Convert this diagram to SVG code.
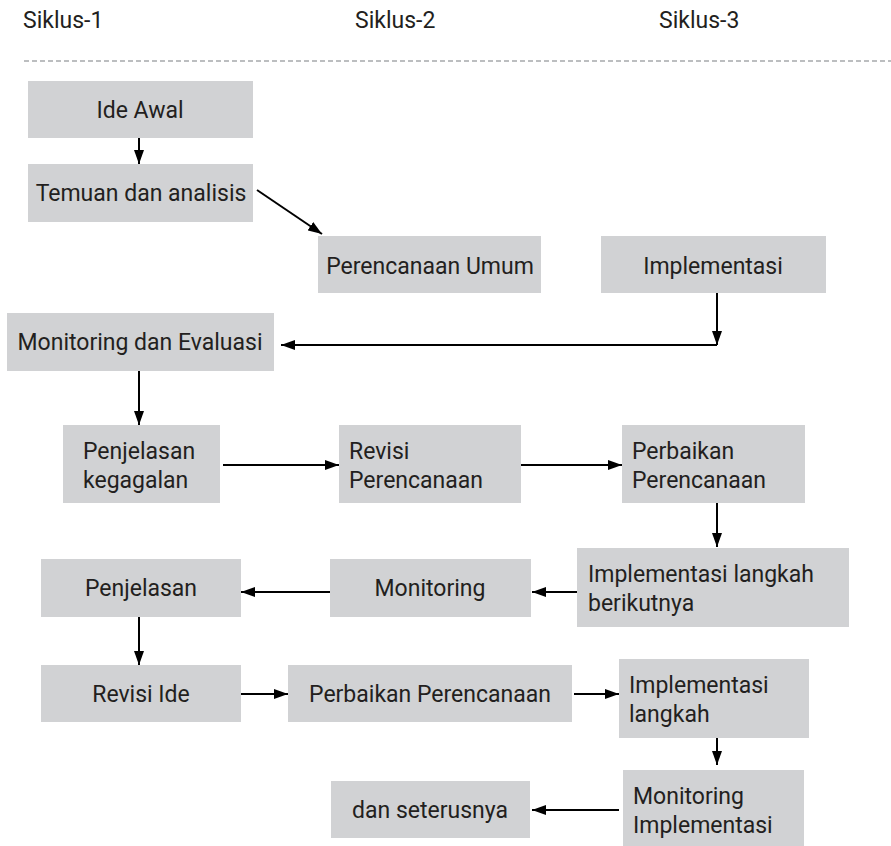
<svg xmlns="http://www.w3.org/2000/svg" width="891" height="846" viewBox="0 0 891 846">
<defs>
<style>
.box{fill:#d1d2d4}
text{font-family:Roboto,"Liberation Sans",sans-serif;font-size:23px;fill:#231f20}
.c{text-anchor:middle}
.ln{stroke:#000;stroke-width:2;fill:none}
</style>
<marker id="ah" viewBox="0 0 14 10" refX="14" refY="5" markerWidth="7" markerHeight="5" markerUnits="strokeWidth" orient="auto">
<path d="M0,0 L14,5 L0,10 Z" fill="#000"/>
</marker>
</defs>
<rect width="891" height="846" fill="#fff"/>
<g id="header">
<text x="23" y="28">Siklus-1</text>
<text x="355" y="28">Siklus-2</text>
<text x="659" y="28">Siklus-3</text>
<line x1="24" y1="61" x2="891" y2="61" stroke="#a7a9ac" stroke-width="1.5" stroke-dasharray="5,3"/>
</g>
<g id="connectors">
<line class="ln" x1="139" y1="138" x2="139" y2="164" marker-end="url(#ah)"/>
<line class="ln" x1="257" y1="190" x2="322" y2="234" marker-end="url(#ah)"/>
<line class="ln" x1="717" y1="293" x2="717" y2="345" marker-end="url(#ah)"/>
<line class="ln" x1="717" y1="345" x2="281" y2="345" marker-end="url(#ah)"/>
<line class="ln" x1="139" y1="371" x2="139" y2="425" marker-end="url(#ah)"/>
<line class="ln" x1="223" y1="465" x2="339" y2="465" marker-end="url(#ah)"/>
<line class="ln" x1="521" y1="465" x2="622" y2="465" marker-end="url(#ah)"/>
<line class="ln" x1="717" y1="503" x2="717" y2="547" marker-end="url(#ah)"/>
<line class="ln" x1="577" y1="592" x2="532" y2="592" marker-end="url(#ah)"/>
<line class="ln" x1="330" y1="592" x2="241" y2="592" marker-end="url(#ah)"/>
<line class="ln" x1="139" y1="617" x2="139" y2="665" marker-end="url(#ah)"/>
<line class="ln" x1="241" y1="694" x2="288" y2="694" marker-end="url(#ah)"/>
<line class="ln" x1="574" y1="694" x2="619" y2="694" marker-end="url(#ah)"/>
<line class="ln" x1="717" y1="738" x2="717" y2="765" marker-end="url(#ah)"/>
<line class="ln" x1="619" y1="810" x2="532" y2="810" marker-end="url(#ah)"/>
</g>
<g id="ide-awal"><rect class="box" x="28" y="81" width="225" height="57"/><text class="c" x="140" y="118">Ide Awal</text></g>
<g id="temuan"><rect class="box" x="28" y="164" width="225" height="58"/><text class="c" x="141" y="201">Temuan dan analisis</text></g>
<g id="perencanaan-umum"><rect class="box" x="318" y="236" width="223" height="57"/><text class="c" x="430" y="274">Perencanaan Umum</text></g>
<g id="implementasi"><rect class="box" x="601" y="236" width="225" height="57"/><text class="c" x="713" y="274">Implementasi</text></g>
<g id="monitoring-evaluasi"><rect class="box" x="7" y="313" width="267" height="58"/><text class="c" x="140" y="350">Monitoring dan Evaluasi</text></g>
<g id="penjelasan-kegagalan"><rect class="box" x="63" y="425" width="157" height="78"/><text x="83" y="459">Penjelasan</text><text x="83" y="488">kegagalan</text></g>
<g id="revisi-perencanaan"><rect class="box" x="339" y="425" width="182" height="78"/><text x="349" y="459">Revisi</text><text x="349" y="488">Perencanaan</text></g>
<g id="perbaikan-perencanaan-1"><rect class="box" x="622" y="425" width="183" height="78"/><text x="632" y="459">Perbaikan</text><text x="632" y="488">Perencanaan</text></g>
<g id="implementasi-langkah-berikutnya"><rect class="box" x="577" y="548" width="272" height="79"/><text x="588" y="582">Implementasi langkah</text><text x="588" y="611">berikutnya</text></g>
<g id="monitoring"><rect class="box" x="330" y="559" width="201" height="58"/><text class="c" x="430" y="596">Monitoring</text></g>
<g id="penjelasan"><rect class="box" x="41" y="559" width="200" height="58"/><text class="c" x="141" y="596">Penjelasan</text></g>
<g id="revisi-ide"><rect class="box" x="41" y="665" width="200" height="57"/><text class="c" x="141" y="702">Revisi Ide</text></g>
<g id="perbaikan-perencanaan-2"><rect class="box" x="288" y="665" width="284" height="57"/><text class="c" x="430" y="702">Perbaikan Perencanaan</text></g>
<g id="implementasi-langkah"><rect class="box" x="619" y="659" width="190" height="79"/><text x="629" y="693">Implementasi</text><text x="629" y="722">langkah</text></g>
<g id="monitoring-implementasi"><rect class="box" x="623" y="770" width="181" height="76"/><text x="633" y="804">Monitoring</text><text x="633" y="833">Implementasi</text></g>
<g id="dan-seterusnya"><rect class="box" x="331" y="781" width="199" height="57"/><text class="c" x="430" y="818">dan seterusnya</text></g>
</svg>
